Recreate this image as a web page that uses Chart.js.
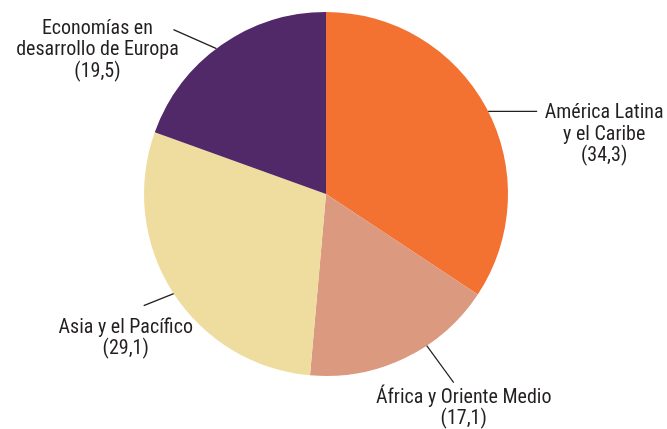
<!DOCTYPE html>
<html>
<head>
<meta charset="utf-8">
<script src="https://cdn.jsdelivr.net/npm/chart.js@4/dist/chart.umd.min.js"></script>
<style>
  body { margin: 0; background: #fff; }
  #wrap { width: 667px; height: 429px; }
</style>
</head>
<body>
<div id="wrap"><canvas id="pie" width="667" height="429"></canvas></div>
<script>
// datos del gráfico
const regiones = ["América Latina\ny el Caribe", "África y Oriente Medio", "Asia y el Pacífico", "Economías en\ndesarrollo de Europa"];
const valores = [34.3, 17.1, 29.1, 19.5];
const colores = ["#F37232", "#DB9A80", "#EFDDA0", "#512868"];

// dónde toca la línea guía el círculo (grados desde arriba) y hacia dónde va
const guias = [
  {ang: 63, dx: 49, dy: 0, tx: 67, ty: 2},
  {ang: 146.4, dx: 27, dy: 37, tx: 10, ty: 15},
  {ang: 236.8, dx: -30, dy: 12, tx: -18, ty: 22},
  {ang: 323, dx: -43, dy: -19, tx: -76, ty: -1}
];

const FUENTE = '20px "Liberation Sans Narrow", "Roboto Condensed", "Arial Narrow", sans-serif';

const etiquetas = {
  id: "etiquetas",
  afterDatasetsDraw(chart) {
    const ctx = chart.ctx;
    const arc = chart.getDatasetMeta(0).data[0];
    const cx = arc.x, cy = arc.y, r = arc.outerRadius;
    ctx.save();
    ctx.font = FUENTE;
    ctx.fillStyle = "#231F20";
    ctx.strokeStyle = "#231F20";
    ctx.lineWidth = 1.2;
    ctx.textAlign = "center";
    ctx.textBaseline = "middle";
    guias.forEach((g, i) => {
      const a = g.ang * Math.PI / 180;
      const x0 = cx + r * Math.sin(a);
      const y0 = cy - r * Math.cos(a);
      const x1 = x0 + g.dx, y1 = y0 + g.dy;
      ctx.beginPath();
      ctx.moveTo(x0, y0);
      ctx.lineTo(x1, y1);
      ctx.stroke();
      const lineas = regiones[i].split("\n");
      lineas.push("(" + valores[i].toFixed(1).replace(".", ",") + ")");
      lineas.forEach((t, k) => {
        ctx.fillText(t, x1 + g.tx, y1 + g.ty + k * 21.5);
      });
    });
    ctx.restore();
  }
};

new Chart("pie", {
  type: "pie",
  data: {
    labels: regiones,
    datasets: [{
      data: valores,
      backgroundColor: colores,
      borderWidth: 0
    }]
  },
  options: {
    responsive: false,
    animation: false,
    layout: {padding: {top: 12, bottom: 53, left: 0, right: 15}},
    plugins: {
      legend: {display: false},
      tooltip: {enabled: false}
    }
  },
  plugins: [etiquetas]
});
</script>
</body>
</html>
